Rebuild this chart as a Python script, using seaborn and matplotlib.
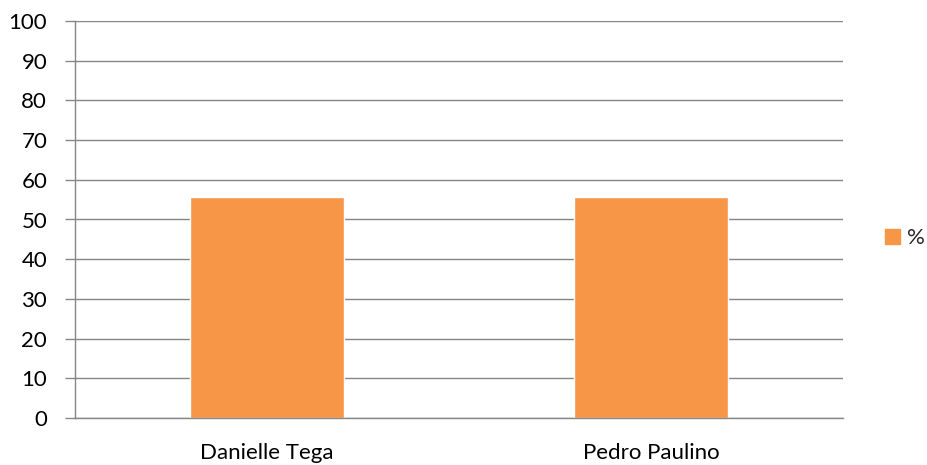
import pandas as pd
import seaborn as sns
import matplotlib.pyplot as plt
from matplotlib.patches import Patch

# dados
nomes = ['Danielle Tega', 'Pedro Paulino']
valores = [55.6, 55.6]
serie = '%'

df = pd.DataFrame({'nome': nomes, 'valor': valores})

sns.set_style('white')
plt.rcParams['font.family'] = ['Lato', 'DejaVu Sans']

cor = '#F79646'
cinza = '#868686'
fs = 16

fig = plt.figure(figsize=(9.27, 4.65), dpi=100)
ax = fig.add_axes([75 / 927, 1 - 418 / 465, (843 - 75) / 927, (418 - 21) / 465])

sns.barplot(data=df, x='nome', y='valor', color=cor, width=0.4, saturation=1, ax=ax)

ax.set_xlim(-0.5, 1.5)
ax.set_ylim(0, 100)
ax.set_yticks(range(0, 101, 10))
ax.yaxis.grid(True, color=cinza, linewidth=1)
ax.set_axisbelow(True)

for s in ['top', 'right']:
    ax.spines[s].set_visible(False)
for s in ['left', 'bottom']:
    ax.spines[s].set_color(cinza)
    ax.spines[s].set_linewidth(1)

# marcas entre categorias
ax.set_xticks([-0.5, 0.5, 1.5], minor=True)
ax.tick_params(axis='x', which='minor', length=6, color=cinza, width=1, direction='out')
ax.tick_params(axis='x', which='major', length=0, pad=18, labelsize=fs, labelcolor='black')
ax.tick_params(axis='y', length=7, color=cinza, width=1, direction='out', labelsize=fs,
               pad=13, left=True, labelcolor='black')
ax.set_xlabel('')
ax.set_ylabel('')

handles = [Patch(facecolor=cor, edgecolor=cor, label=serie)]
fig.legend(handles=handles, loc='center left', bbox_to_anchor=(885 / 927, 1 - 238 / 465),
           frameon=False, fontsize=fs, borderpad=0, borderaxespad=0,
           handlelength=0.68, handleheight=0.68, handletextpad=0.3)

plt.savefig('out.png', dpi=100)
